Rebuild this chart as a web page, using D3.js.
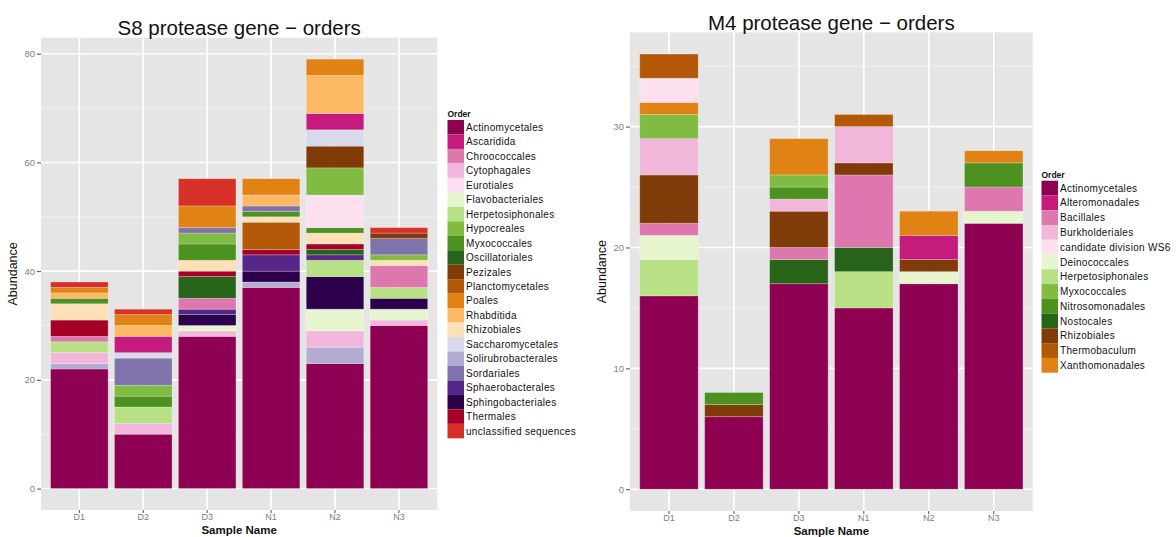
<!DOCTYPE html>
<html>
<head>
<meta charset="utf-8">
<script src="https://cdn.jsdelivr.net/npm/d3@7/dist/d3.min.js"></script>
<style>
  html, body { margin: 0; padding: 0; background: #ffffff; }
  svg { display: block; font-family: "Liberation Sans", Arial, sans-serif; }
</style>
</head>
<body>
<svg id="chart" width="1176" height="537"></svg>
<script>
// Samples shared by both panels
const samples = ["D1", "D2", "D3", "N1", "N2", "N3"];

// ---- S8 protease gene ----
const s8Orders = [
  "Actinomycetales", "Ascaridida", "Chroococcales", "Cytophagales", "Eurotiales",
  "Flavobacteriales", "Herpetosiphonales", "Hypocreales", "Myxococcales", "Oscillatoriales",
  "Pezizales", "Planctomycetales", "Poales", "Rhabditida", "Rhizobiales",
  "Saccharomycetales", "Solirubrobacterales", "Sordariales", "Sphaerobacterales",
  "Sphingobacteriales", "Thermales", "unclassified sequences"
];
const s8Colors = [
  "#8E0152", "#C51B7D", "#DE77AE", "#F1B6DA", "#FDE0EF",
  "#E6F5D0", "#B8E186", "#7FBC41", "#4D9221", "#276419",
  "#7F3B08", "#B35806", "#E08214", "#FDB863", "#FEE0B6",
  "#D8DAEB", "#B2ABD2", "#8073AC", "#542788",
  "#2D004B", "#A50026", "#D73027"
];
const s8Ticks = [0, 20, 40, 60, 80];
// rows: [sample, order, abundance], listed bottom-up within each sample
const s8Rows = [
  ["D1", "Actinomycetales", 22], ["D1", "Solirubrobacterales", 1], ["D1", "Cytophagales", 2],
  ["D1", "Herpetosiphonales", 2], ["D1", "Chroococcales", 1], ["D1", "Thermales", 3],
  ["D1", "Rhizobiales", 3], ["D1", "Myxococcales", 1], ["D1", "Rhabditida", 1],
  ["D1", "Poales", 1], ["D1", "unclassified sequences", 1],

  ["D2", "Actinomycetales", 10], ["D2", "Cytophagales", 2], ["D2", "Herpetosiphonales", 3],
  ["D2", "Myxococcales", 2], ["D2", "Hypocreales", 2], ["D2", "Sordariales", 5],
  ["D2", "Saccharomycetales", 1], ["D2", "Ascaridida", 3], ["D2", "Rhabditida", 2],
  ["D2", "Poales", 2], ["D2", "unclassified sequences", 1],

  ["D3", "Actinomycetales", 28], ["D3", "Cytophagales", 1], ["D3", "Flavobacteriales", 1],
  ["D3", "Sphingobacteriales", 2], ["D3", "Sphaerobacterales", 1], ["D3", "Chroococcales", 2],
  ["D3", "Oscillatoriales", 4], ["D3", "Thermales", 1], ["D3", "Rhizobiales", 2],
  ["D3", "Myxococcales", 3], ["D3", "Hypocreales", 2], ["D3", "Sordariales", 1],
  ["D3", "Poales", 4], ["D3", "unclassified sequences", 5],

  ["N1", "Actinomycetales", 37], ["N1", "Solirubrobacterales", 1], ["N1", "Sphingobacteriales", 2],
  ["N1", "Sphaerobacterales", 3], ["N1", "Thermales", 1], ["N1", "Planctomycetales", 5],
  ["N1", "Rhizobiales", 1], ["N1", "Myxococcales", 1], ["N1", "Sordariales", 1],
  ["N1", "Rhabditida", 2], ["N1", "Poales", 3],

  ["N2", "Actinomycetales", 23], ["N2", "Solirubrobacterales", 3], ["N2", "Cytophagales", 3],
  ["N2", "Flavobacteriales", 4], ["N2", "Sphingobacteriales", 6], ["N2", "Herpetosiphonales", 3],
  ["N2", "Sphaerobacterales", 1], ["N2", "Oscillatoriales", 1], ["N2", "Thermales", 1],
  ["N2", "Rhizobiales", 2], ["N2", "Myxococcales", 1], ["N2", "Eurotiales", 6],
  ["N2", "Hypocreales", 5], ["N2", "Pezizales", 4], ["N2", "Saccharomycetales", 3],
  ["N2", "Ascaridida", 3], ["N2", "Rhabditida", 7], ["N2", "Poales", 3],

  ["N3", "Actinomycetales", 30], ["N3", "Cytophagales", 1], ["N3", "Flavobacteriales", 2],
  ["N3", "Sphingobacteriales", 2], ["N3", "Herpetosiphonales", 2], ["N3", "Chroococcales", 4],
  ["N3", "Rhizobiales", 1], ["N3", "Hypocreales", 1], ["N3", "Sordariales", 3],
  ["N3", "Pezizales", 1], ["N3", "unclassified sequences", 1]
];

// ---- M4 protease gene ----
const m4Orders = [
  "Actinomycetales", "Alteromonadales", "Bacillales", "Burkholderiales",
  "candidate division WS6", "Deinococcales", "Herpetosiphonales", "Myxococcales",
  "Nitrosomonadales", "Nostocales", "Rhizobiales", "Thermobaculum", "Xanthomonadales"
];
const m4Colors = [
  "#8E0152", "#C51B7D", "#DE77AE", "#F1B6DA",
  "#FDE0EF", "#E6F5D0", "#B8E186", "#7FBC41",
  "#4D9221", "#276419", "#7F3B08", "#B35806", "#E08214"
];
const m4Ticks = [0, 10, 20, 30];
const m4Rows = [
  ["D1", "Actinomycetales", 16], ["D1", "Herpetosiphonales", 3], ["D1", "Deinococcales", 2],
  ["D1", "Bacillales", 1], ["D1", "Rhizobiales", 4], ["D1", "Burkholderiales", 3],
  ["D1", "Myxococcales", 2], ["D1", "Xanthomonadales", 1], ["D1", "candidate division WS6", 2],
  ["D1", "Thermobaculum", 2],

  ["D2", "Actinomycetales", 6], ["D2", "Rhizobiales", 1], ["D2", "Nitrosomonadales", 1],

  ["D3", "Actinomycetales", 17], ["D3", "Nostocales", 2], ["D3", "Bacillales", 1],
  ["D3", "Rhizobiales", 3], ["D3", "Burkholderiales", 1], ["D3", "Nitrosomonadales", 1],
  ["D3", "Myxococcales", 1], ["D3", "Xanthomonadales", 3],

  ["N1", "Actinomycetales", 15], ["N1", "Herpetosiphonales", 3], ["N1", "Nostocales", 2],
  ["N1", "Bacillales", 6], ["N1", "Rhizobiales", 1], ["N1", "Burkholderiales", 3],
  ["N1", "Thermobaculum", 1],

  ["N2", "Actinomycetales", 17], ["N2", "Deinococcales", 1], ["N2", "Rhizobiales", 1],
  ["N2", "Alteromonadales", 2], ["N2", "Xanthomonadales", 2],

  ["N3", "Actinomycetales", 22], ["N3", "Deinococcales", 1], ["N3", "Bacillales", 2],
  ["N3", "Nitrosomonadales", 2], ["N3", "Xanthomonadales", 1]
];

const svg = d3.select("#chart");

function drawPanel(cfg) {
  const g = svg.append("g");
  const { left, right, top, bottom } = cfg;

  // stack rows per sample, keeping the listed order bottom-up
  const totals = {};
  const segs = cfg.rows.map(([sample, order, value]) => {
    const y0 = totals[sample] || 0;
    totals[sample] = y0 + value;
    return { sample, order, y0, y1: y0 + value };
  });
  const maxTotal = d3.max(Object.values(totals));

  const x = d3.scaleBand().domain(samples).range([left, right])
    .paddingInner(0.1).paddingOuter(0.15);
  const pad = maxTotal * 0.05;
  const y = d3.scaleLinear().domain([-pad, maxTotal + pad]).range([bottom, top]);
  const color = d3.scaleOrdinal().domain(cfg.orders).range(cfg.colors);

  // panel background
  g.append("rect").attr("x", left).attr("y", top)
    .attr("width", right - left).attr("height", bottom - top).attr("fill", "#E5E5E5");

  // minor grid lines (between major ticks)
  const step = cfg.ticks[1] - cfg.ticks[0];
  const minor = [];
  for (let v = cfg.ticks[0] + step / 2; v < maxTotal + pad; v += step) minor.push(v);
  g.selectAll(".minor").data(minor).join("line")
    .attr("x1", left).attr("x2", right)
    .attr("y1", d => y(d)).attr("y2", d => y(d))
    .attr("stroke", "#F2F2F2").attr("stroke-width", 0.8);

  // major grid lines
  g.selectAll(".hmajor").data(cfg.ticks).join("line")
    .attr("x1", left).attr("x2", right)
    .attr("y1", d => y(d)).attr("y2", d => y(d))
    .attr("stroke", "#FFFFFF").attr("stroke-width", 1.6);
  g.selectAll(".vmajor").data(samples).join("line")
    .attr("x1", d => x(d) + x.bandwidth() / 2).attr("x2", d => x(d) + x.bandwidth() / 2)
    .attr("y1", top).attr("y2", bottom)
    .attr("stroke", "#FFFFFF").attr("stroke-width", 1.6);

  // stacked bars
  g.selectAll(".seg").data(segs).join("rect")
    .attr("x", d => x(d.sample))
    .attr("width", x.bandwidth())
    .attr("y", d => y(d.y1))
    .attr("height", d => y(d.y0) - y(d.y1))
    .attr("fill", d => color(d.order))
    .attr("stroke", "#FFFFFF").attr("stroke-opacity", 0.3).attr("stroke-width", 0.8);

  // y axis
  const yAxis = g.append("g").attr("transform", `translate(${left},0)`)
    .call(d3.axisLeft(y).tickValues(cfg.ticks).tickSize(4).tickPadding(2));
  yAxis.select(".domain").remove();
  yAxis.selectAll(".tick line").attr("stroke", "#4D4D4D");
  yAxis.selectAll(".tick text").attr("fill", "#808080")
    .style("font-size", "9.5px").style("font-family", "'Liberation Sans', Arial, sans-serif");

  // x axis
  const xAxis = g.append("g").attr("transform", `translate(0,${bottom})`)
    .call(d3.axisBottom(x).tickSize(3).tickPadding(1));
  xAxis.select(".domain").remove();
  xAxis.selectAll(".tick line").attr("stroke", "#4D4D4D");
  xAxis.selectAll(".tick text").attr("fill", "#808080")
    .style("font-size", "9px").style("font-family", "'Liberation Sans', Arial, sans-serif");

  // titles
  g.append("text").attr("x", (left + right) / 2).attr("y", cfg.titleY)
    .attr("text-anchor", "middle").attr("fill", "#111").style("font-size", "20.5px")
    .text(cfg.title);
  g.append("text").attr("x", (left + right) / 2).attr("y", cfg.xTitleY)
    .attr("text-anchor", "middle").attr("fill", "#111").style("font-size", "11.5px")
    .style("font-weight", "bold").text("Sample Name");
  g.append("text")
    .attr("transform", `translate(${cfg.yTitleX},${(top + bottom) / 2}) rotate(-90)`)
    .attr("text-anchor", "middle").attr("fill", "#111").style("font-size", "12.5px")
    .text("Abundance");

  // legend
  const lg = svg.append("g").attr("transform", `translate(${cfg.legendX},${cfg.legendY})`);
  lg.append("text").attr("x", 0).attr("y", -3).attr("fill", "#111")
    .style("font-size", "8.5px").style("font-weight", "bold").text("Order");
  const keyH = cfg.keyH, keyW = 16.5;
  const items = lg.selectAll(".item").data(cfg.orders).join("g")
    .attr("transform", (d, i) => `translate(0,${i * keyH})`);
  items.append("rect").attr("width", keyW).attr("height", keyH)
    .attr("fill", d => color(d));
  items.append("text").attr("x", keyW + 2).attr("y", keyH / 2 + 3.6)
    .attr("fill", "#111").style("font-size", "10px").style("letter-spacing", "0.3px")
    .text(d => d);
}

drawPanel({
  rows: s8Rows, orders: s8Orders, colors: s8Colors, ticks: s8Ticks,
  left: 41, right: 437.3, top: 37.7, bottom: 510,
  title: "S8 protease gene \u2212 orders", titleY: 35, xTitleY: 534, yTitleX: 17,
  legendX: 447.5, legendY: 120, keyH: 14.47
});

drawPanel({
  rows: m4Rows, orders: m4Orders, colors: m4Colors, ticks: m4Ticks,
  left: 630, right: 1032.7, top: 32.3, bottom: 511,
  title: "M4 protease gene \u2212 orders", titleY: 29.5, xTitleY: 534.5, yTitleX: 606,
  legendX: 1041.5, legendY: 180.7, keyH: 14.77
});
</script>
</body>
</html>
